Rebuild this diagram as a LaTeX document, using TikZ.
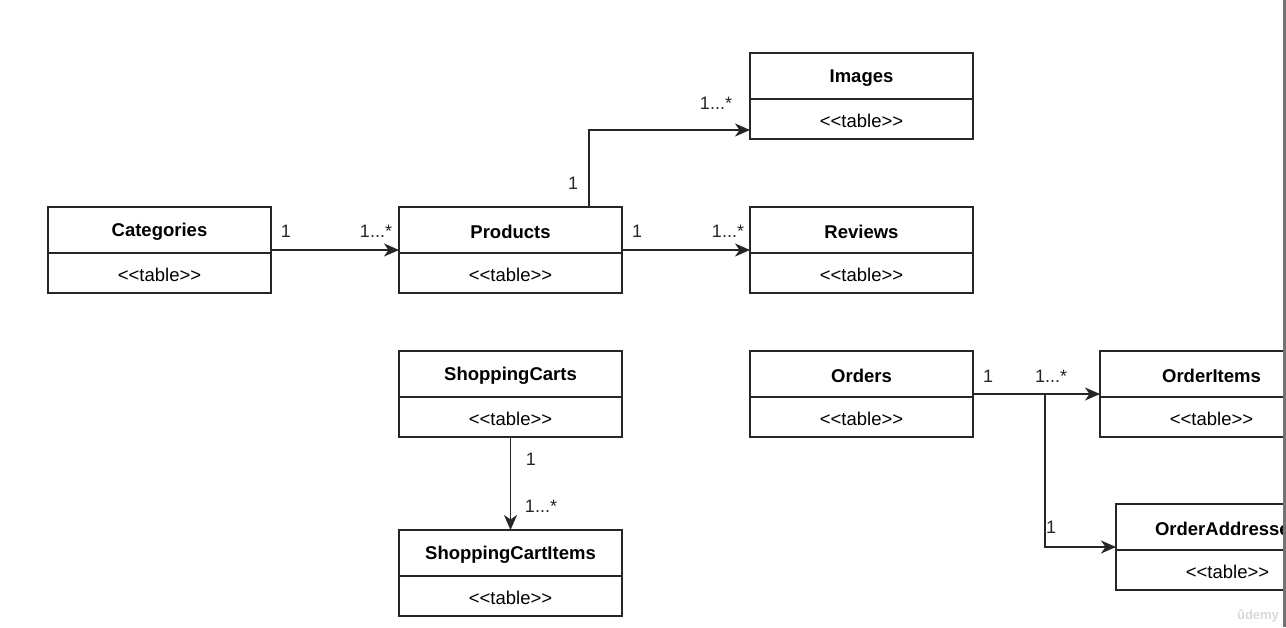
\documentclass[tikz,border=0pt]{standalone}
\usepackage{fontspec}
\setmainfont{Liberation Sans}
\usetikzlibrary{arrows.meta}
\tikzset{
  box/.style={draw=black!85, line width=1.8pt, rectangle, minimum width=223pt, minimum height=86pt, inner sep=0pt, outer sep=0pt},
  ttl/.style={font=\fontsize{18.5}{20}\selectfont\bfseries, inner sep=0pt},
  stereo/.style={font=\fontsize{18.5}{20}\selectfont, inner sep=0pt},
  conn/.style={draw=black!85, line width=1.8pt, -{Stealth[length=15pt,width=13pt,inset=4.5pt]}},
  mult/.style={font=\fontsize{18}{20}\selectfont, inner sep=0pt, text=black!85},
}
\newcommand\umltbl[4]{%
  \node[box] (#1) at ({#2+111.5},{#3+43}) {};
  \draw[draw=black!85, line width=1.8pt] ([yshift=-46pt]#1.north west) -- ([yshift=-46pt]#1.north east);
  \node[ttl] (#1-t) at ({#2+111.5},{#3+25}) {#4};
  \node[stereo] (#1-s) at ({#2+111.5},{#3+68}) {<{}<table>{}>};
}
\begin{document}
\begin{tikzpicture}[x=1pt,y=-1pt]
\useasboundingbox (0,0) rectangle (1286,627);
\fill[white] (0,0) rectangle (1286,627);
\clip (0,0) rectangle (1286,627);
\umltbl{cat}{48}{207}{Categories}
\umltbl{prod}{399}{207}{Products}
\umltbl{rev}{750}{207}{Reviews}
\umltbl{img}{750}{53}{Images}
\umltbl{sc}{399}{351}{ShoppingCarts}
\umltbl{sci}{399}{530}{ShoppingCartItems}
\umltbl{ord}{750}{351}{Orders}
\umltbl{oi}{1100}{351}{OrderItems}
\umltbl{oa}{1116}{504}{OrderAddresses}
% connectors
\draw[conn] (cat.east) -- (prod.west);
\draw[conn] (prod.east) -- (rev.west);
\draw[conn] ([xshift=78.5pt]prod.north) |- ([yshift=9pt]img.south west);
\draw[conn] (sc.south) -- (sci.north);
\draw[conn] (ord.east) -- (oi.west);
\coordinate (br) at (1045,394);
\draw[conn] (br) |- (oa.west);
% multiplicities
\node[mult] (m1) at (286,231) {1};
\node[mult] (m2) at (376,231) {1...*};
\node[mult] (m3) at (637,231) {1};
\node[mult] (m4) at (728,231) {1...*};
\node[mult] (m5) at (573,183) {1};
\node[mult] (m6) at (716,103) {1...*};
\node[mult] (m7) at (531,459) {1};
\node[mult] (m8) at (541,506) {1...*};
\node[mult] (m9) at (988,376) {1};
\node[mult] (m10) at (1051,376) {1...*};
\node[mult] (m11) at (1051,527) {1};
% right edge band
\fill[black!55] (1283,0) rectangle (1286,627);
\node[font=\fontsize{13}{14}\selectfont\bfseries, text=black!15, inner sep=0pt] (wm) at (1258,616) {ûdemy};
\end{tikzpicture}
\end{document}
